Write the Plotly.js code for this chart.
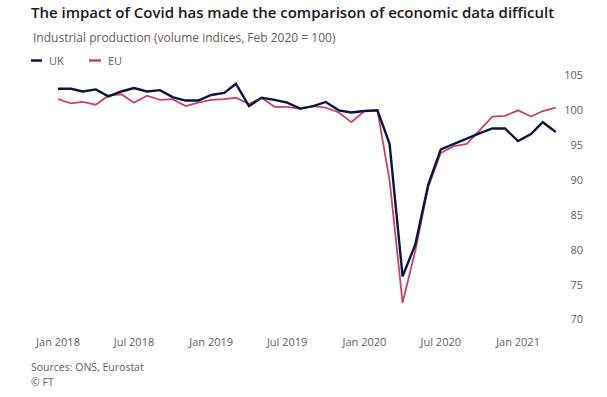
<!DOCTYPE html>
<html>
<head>
<meta charset="utf-8">
<script src="https://cdn.plot.ly/plotly-3.0.1.min.js"></script>
<style>html,body{margin:0;padding:0;background:#fff;}#chart{width:607px;height:397px;}</style>
</head>
<body>
<div id="chart"></div>
<script>
// Monthly dates, Jan 2018 - Apr 2021
const months = [
  '2018-01-01','2018-02-01','2018-03-01','2018-04-01','2018-05-01','2018-06-01',
  '2018-07-01','2018-08-01','2018-09-01','2018-10-01','2018-11-01','2018-12-01',
  '2019-01-01','2019-02-01','2019-03-01','2019-04-01','2019-05-01','2019-06-01',
  '2019-07-01','2019-08-01','2019-09-01','2019-10-01','2019-11-01','2019-12-01',
  '2020-01-01','2020-02-01','2020-03-01','2020-04-01','2020-05-01','2020-06-01',
  '2020-07-01','2020-08-01','2020-09-01','2020-10-01','2020-11-01','2020-12-01',
  '2021-01-01','2021-02-01','2021-03-01','2021-04-01'
];
const ukValues = [
  103.1, 103.1, 102.7, 103.0, 102.0, 102.7, 103.2, 102.7, 102.9, 101.9, 101.4, 101.4,
  102.2, 102.5, 103.8, 100.6, 101.8, 101.5, 101.1, 100.25, 100.6, 101.2, 100.0, 99.7,
  99.9, 100.0, 95.2, 76.2, 80.7, 89.3, 94.4, 95.2, 96.0, 96.7, 97.4, 97.4,
  95.6, 96.6, 98.3, 96.9
];
const euValues = [
  101.6, 101.0, 101.2, 100.8, 102.1, 102.3, 101.1, 102.1, 101.5, 101.6, 100.6, 101.1,
  101.5, 101.6, 101.8, 100.9, 101.8, 100.5, 100.5, 100.2, 100.6, 100.4, 99.7, 98.3,
  99.9, 100.0, 90.0, 72.4, 79.8, 89.0, 93.9, 94.85, 95.2, 97.1, 99.1, 99.2,
  100.0, 99.1, 99.9, 100.4
];
const seriesNames = ['UK', 'EU'];
const xTickVals = ['2018-01-01','2018-07-01','2019-01-01','2019-07-01','2020-01-01','2020-07-01','2021-01-01'];
const xTickText = ['Jan 2018','Jul 2018','Jan 2019','Jul 2019','Jan 2020','Jul 2020','Jan 2021'];
const yTickVals = [70, 75, 80, 85, 90, 95, 100, 105];

const W = 607, H = 397;
const M = {l: 58, r: 21, t: 64.5, b: 66.5};
const pw = W - M.l - M.r, ph = H - M.t - M.b;
const px = x => (x - M.l) / pw;
const py = y => (H - M.b - y) / ph;

const UK_COLOR = '#0b1544';
const EU_COLOR = '#c7436b';
const GREY = '#66605c';
const FONT = '"Open Sans", "Noto Sans", sans-serif';

const traces = [
  {x: months, y: euValues, name: seriesNames[1], type: 'scatter', mode: 'lines',
   line: {color: EU_COLOR, width: 1.8}, hoverinfo: 'skip'},
  {x: months, y: ukValues, name: seriesNames[0], type: 'scatter', mode: 'lines',
   line: {color: UK_COLOR, width: 2.4}, hoverinfo: 'skip'}
];

const layout = {
  width: W, height: H,
  margin: M,
  paper_bgcolor: '#ffffff', plot_bgcolor: '#ffffff',
  showlegend: false,
  font: {family: FONT, color: GREY, size: 11},
  title: {
    text: 'The impact of Covid has made the comparison of economic data difficult',
    font: {family: FONT, size: 15, color: '#1a1817', weight: 600},
    xref: 'container', yref: 'container',
    x: 31 / W, xanchor: 'left', y: 1 - 13 / H, yanchor: 'middle'
  },
  xaxis: {
    type: 'date',
    range: ['2018-01-01', '2021-06-12'],
    tickmode: 'array', tickvals: xTickVals, ticktext: xTickText,
    showgrid: false, zeroline: false, showline: false, ticks: '',
    ticklabelstandoff: 4,
    tickfont: {family: FONT, size: 11, color: GREY}
  },
  yaxis: {
    range: [68.5, 106.5],
    side: 'right',
    ticklabelposition: 'inside',
    tickmode: 'array', tickvals: yTickVals,
    showgrid: false, zeroline: false, showline: false, ticks: '',
    tickfont: {family: FONT, size: 11, color: GREY}
  },
  shapes: [
    {type: 'line', xref: 'paper', yref: 'paper', x0: px(31), x1: px(42), y0: py(60), y1: py(60),
     line: {color: UK_COLOR, width: 2.5}},
    {type: 'line', xref: 'paper', yref: 'paper', x0: px(89), x1: px(101), y0: py(60), y1: py(60),
     line: {color: EU_COLOR, width: 2.5}}
  ],
  annotations: [
    {text: 'Industrial production (volume indices, Feb 2020 = 100)', xref: 'paper', yref: 'paper',
     x: px(31), y: py(37), xanchor: 'left', yanchor: 'middle', showarrow: false,
     font: {family: FONT, size: 12, color: GREY}},
    {text: seriesNames[0], xref: 'paper', yref: 'paper', x: px(47), y: py(60),
     xanchor: 'left', yanchor: 'middle', showarrow: false, font: {family: FONT, size: 11, color: GREY}},
    {text: seriesNames[1], xref: 'paper', yref: 'paper', x: px(106), y: py(60),
     xanchor: 'left', yanchor: 'middle', showarrow: false, font: {family: FONT, size: 11, color: GREY}},
    {text: 'Sources: ONS, Eurostat', xref: 'paper', yref: 'paper', x: px(29), y: py(368),
     xanchor: 'left', yanchor: 'middle', showarrow: false, font: {family: FONT, size: 10.5, color: GREY}},
    {text: '© FT', xref: 'paper', yref: 'paper', x: px(29), y: py(383),
     xanchor: 'left', yanchor: 'middle', showarrow: false, font: {family: FONT, size: 10.5, color: GREY}}
  ]
};

Plotly.newPlot('chart', traces, layout, {displayModeBar: false, staticPlot: true});
</script>
</body>
</html>
